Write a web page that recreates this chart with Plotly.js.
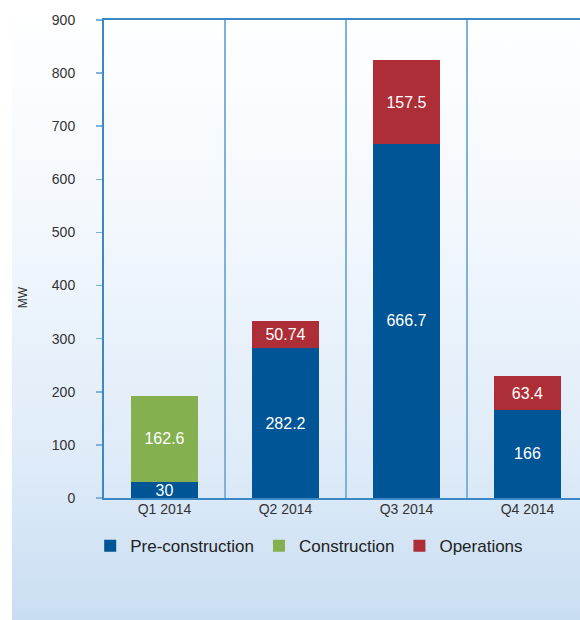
<!DOCTYPE html>
<html>
<head>
<meta charset="utf-8">
<script src="https://cdn.plot.ly/plotly-3.0.1.min.js"></script>
<style>
  html, body { margin: 0; padding: 0; background: #ffffff; }
  #wrap { position: relative; width: 580px; height: 620px; overflow: hidden; }
  #bg { position: absolute; left: 12px; top: 0; width: 568px; height: 620px;
        background: linear-gradient(to bottom, #ffffff 0%, #f3f8fd 35%, #deebf8 75%, #c9ddf2 100%); }
  #chart { position: absolute; left: 0; top: 0; width: 580px; height: 620px; }
</style>
</head>
<body>
<div id="wrap"><div id="bg"></div><div id="chart"></div></div>
<script>
const categories = ["Q1 2014", "Q2 2014", "Q3 2014", "Q4 2014"];
const preConstruction = [30, 282.2, 666.7, 166];
const construction = [162.6, null, null, null];
const operations = [null, 50.74, 157.5, 63.4];
const yTicks = [0, 100, 200, 300, 400, 500, 600, 700, 800, 900];

const labelFont = {family: "Liberation Sans, Arial, sans-serif", size: 16, color: "#ffffff"};

function barTrace(name, values, color) {
  return {
    type: "bar",
    name: name,
    x: categories,
    y: values,
    marker: {color: color, line: {width: 0}},
    text: values.map(v => v === null ? "" : String(v)),
    textposition: "inside",
    insidetextanchor: "middle",
    textangle: 0,
    insidetextfont: labelFont,
    constraintext: "none",
    cliponaxis: false,
    hoverinfo: "none"
  };
}

const data = [
  barTrace("Pre-construction", preConstruction, "#005596"),
  barTrace("Construction", construction, "#84b04f"),
  barTrace("Operations", operations, "#ad2e36")
];

const layout = {
  width: 580,
  height: 620,
  barmode: "stack",
  bargap: 0.45,
  paper_bgcolor: "rgba(0,0,0,0)",
  plot_bgcolor: "rgba(0,0,0,0)",
  margin: {l: 104, r: 0, t: 20, b: 122, pad: 0},
  font: {family: "Liberation Sans, Arial, sans-serif", color: "#333333"},
  showlegend: true,
  legend: {
    orientation: "h",
    x: -0.029, xanchor: "left",
    y: -0.063, yanchor: "top",
    font: {size: 17, color: "#222222"},
    bgcolor: "rgba(0,0,0,0)",
    traceorder: "normal",
    itemwidth: 30
  },
  xaxis: {
    type: "category",
    range: [-0.5, 3.434],
    tickson: "boundaries",
    showgrid: true,
    gridcolor: "#7fb2da",
    gridwidth: 1.5,
    showline: true,
    linecolor: "#3a88c4",
    linewidth: 2,
    mirror: true,
    ticks: "",
    tickfont: {size: 14, color: "#333333"},
    ticklabelstandoff: -3,
    fixedrange: true
  },
  yaxis: {
    range: [0, 900],
    tickvals: yTicks,
    ticktext: yTicks.map(String),
    showgrid: false,
    zeroline: false,
    showline: true,
    linecolor: "#3a88c4",
    linewidth: 2,
    ticks: "outside",
    ticklen: 6,
    tickwidth: 1.5,
    tickcolor: "#7fb2da",
    tickfont: {size: 14, color: "#333333"},
    ticklabelstandoff: 18,
    fixedrange: true
  },
  annotations: [{
    text: "MW",
    xref: "paper", yref: "paper",
    x: -0.17, y: 0.42,
    xanchor: "center", yanchor: "middle",
    textangle: -90,
    showarrow: false,
    font: {size: 12, color: "#333333"}
  }]
};

Plotly.newPlot("chart", data, layout, {displayModeBar: false, staticPlot: true});
</script>
</body>
</html>
